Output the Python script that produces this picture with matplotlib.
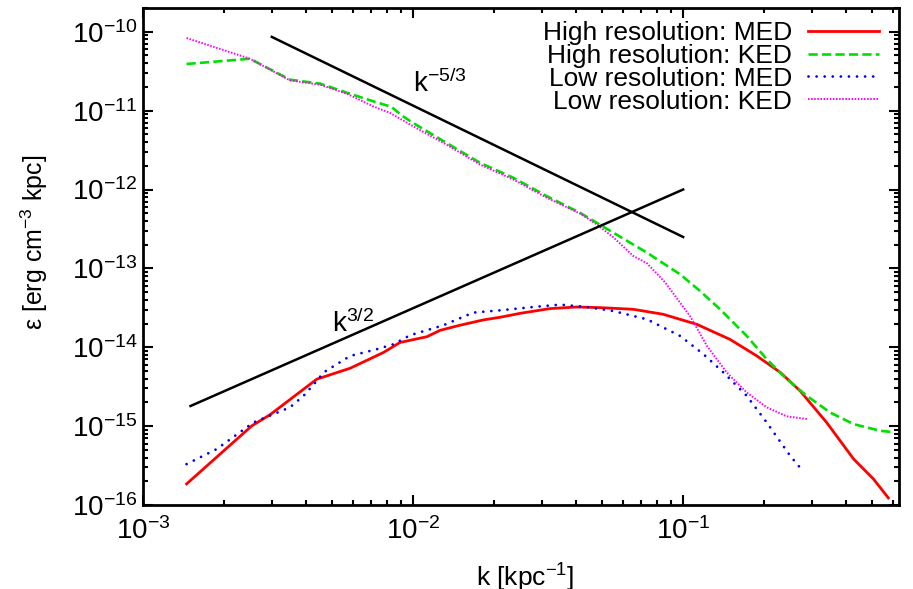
import numpy as np
import matplotlib
matplotlib.use("Agg")
import matplotlib.pyplot as plt
from matplotlib.ticker import LogLocator, NullFormatter

plt.rcParams['font.family'] = ['Liberation Sans', 'DejaVu Sans']
plt.rcParams['mathtext.fontset'] = 'custom'
plt.rcParams['mathtext.rm'] = 'Liberation Sans'
plt.rcParams['mathtext.it'] = 'Liberation Sans'

# --- Data ---
# High resolution: magnetic energy density (MED)
k_hi_med = [1.45e-3, 2.53e-3, 2.95e-3, 4.40e-3, 5.85e-3, 7.76e-3, 8.95e-3,
            1.125e-2, 1.26e-2, 1.49e-2, 1.82e-2, 2.10e-2, 2.49e-2, 3.21e-2,
            4.04e-2, 4.93e-2, 6.53e-2, 8.43e-2, 0.1125, 0.149, 0.1875,
            0.229, 0.271, 0.340, 0.428, 0.507, 0.575]
e_hi_med = [1.85e-16, 1.01e-15, 1.39e-15, 3.94e-15, 5.42e-15, 8.57e-15, 1.15e-14,
            1.36e-14, 1.64e-14, 1.90e-14, 2.22e-14, 2.40e-14, 2.69e-14, 3.09e-14,
            3.24e-14, 3.18e-14, 3.03e-14, 2.62e-14, 1.95e-14, 1.26e-14, 7.76e-15,
            4.79e-15, 2.80e-15, 1.11e-15, 3.82e-16, 2.13e-16, 1.23e-16]

# High resolution: kinetic energy density (KED)
k_hi_ked = [1.45e-3, 2.49e-3, 3.50e-3, 4.53e-3, 5.74e-3, 7.13e-3, 8.30e-3,
            9.18e-3, 1.00e-2, 1.33e-2, 1.77e-2, 2.35e-2, 3.13e-2, 4.15e-2,
            5.52e-2, 7.35e-2, 9.75e-2, 0.1156, 0.137, 0.172, 0.204, 0.242,
            0.287, 0.350, 0.428, 0.537, 0.585]
e_hi_ked = [3.90e-11, 4.55e-11, 2.47e-11, 2.20e-11, 1.67e-11, 1.31e-11, 1.12e-11,
            8.47e-12, 6.98e-12, 3.90e-12, 2.18e-12, 1.41e-12, 8.22e-13, 5.07e-13,
            2.83e-13, 1.58e-13, 8.39e-14, 5.16e-14, 3.03e-14, 1.39e-14, 7.05e-15,
            3.94e-15, 2.42e-15, 1.49e-15, 1.06e-15, 8.72e-16, 8.47e-16]

# Low resolution: MED
k_lo_med = [1.45e-3, 1.875e-3, 2.56e-3, 3.50e-3, 3.93e-3, 4.40e-3, 4.66e-3,
            5.85e-3, 7.34e-3, 8.45e-3, 9.75e-3, 1.294e-2, 1.67e-2, 2.10e-2,
            2.79e-2, 3.50e-2, 4.28e-2, 5.52e-2, 7.35e-2, 9.75e-2, 0.119,
            0.141, 0.172, 0.204, 0.249, 0.279]
e_lo_med = [3.30e-16, 5.12e-16, 1.11e-15, 1.73e-15, 2.42e-15, 3.74e-15, 4.79e-15,
            7.76e-15, 9.44e-15, 1.09e-14, 1.42e-14, 1.90e-14, 2.75e-14, 2.94e-14,
            3.24e-14, 3.47e-14, 3.27e-14, 2.88e-14, 2.26e-14, 1.39e-14, 8.15e-15,
            4.79e-15, 2.42e-15, 1.11e-15, 4.21e-16, 2.64e-16]

# Low resolution: KED
k_lo_ked = [1.45e-3, 2.49e-3, 3.50e-3, 4.53e-3, 5.68e-3, 7.13e-3, 8.22e-3,
            1.00e-2, 1.33e-2, 1.77e-2, 2.35e-2, 3.13e-2, 4.15e-2, 4.79e-2,
            5.52e-2, 6.55e-2, 7.35e-2, 8.57e-2, 0.106, 0.1225, 0.145, 0.172,
            0.204, 0.242, 0.287]
e_lo_ked = [8.32e-11, 4.55e-11, 2.42e-11, 2.13e-11, 1.64e-11, 1.13e-11, 9.35e-12,
            6.33e-12, 3.71e-12, 2.07e-12, 1.34e-12, 7.85e-13, 4.97e-13, 3.61e-13,
            2.47e-13, 1.43e-13, 1.16e-13, 6.65e-14, 2.49e-14, 1.04e-14, 4.79e-15,
            2.67e-15, 1.73e-15, 1.33e-15, 1.23e-15]

# Power-law guide lines (end points)
k_m53 = [3e-3, 0.1]
e_m53 = [8.6e-11, 2.5e-13]
k_p32 = [1.5e-3, 0.1]
e_p32 = [1.8e-15, 1.0e-12]

# --- Plot ---
fig = plt.figure(figsize=(9.13, 5.89), dpi=100)
ax = fig.add_axes([0.1566, 0.1426, 0.8281, 0.8438])

ax.plot(k_hi_med, e_hi_med, color='#ff0000', lw=2.0, label='High resolution: MED')
ax.plot(k_hi_ked, e_hi_ked, color='#00e000', lw=1.9, dashes=(3.5, 1.6),
        label='High resolution: KED')
ax.plot(k_lo_med, e_lo_med, color='#0000ff', lw=2.0, dashes=(0.01, 2.9),
        dash_capstyle='round', label='Low resolution: MED')
ax.plot(k_lo_ked, e_lo_ked, color='#ff00ff', lw=1.4, dashes=(0.8, 0.8),
        label='Low resolution: KED')

ax.plot(k_m53, e_m53, color='black', lw=1.8)
ax.plot(k_p32, e_p32, color='black', lw=1.8)
ax.text(1.0e-2, 1.74e-11, r'k$^{-5/3}$', fontsize=20, ha='left', va='baseline')
ax.text(5.0e-3, 1.55e-14, r'k$^{3/2}$', fontsize=20, ha='left', va='baseline')

ax.set_xscale('log')
ax.set_yscale('log')
ax.set_xlim(1e-3, 0.63)
ax.set_ylim(1e-16, 2e-10)

ax.xaxis.set_major_locator(LogLocator(base=10, numticks=10))
ax.xaxis.set_minor_locator(LogLocator(base=10, subs=np.arange(2, 10), numticks=10))
ax.yaxis.set_major_locator(LogLocator(base=10, numticks=10))
ax.yaxis.set_minor_locator(LogLocator(base=10, subs=np.arange(2, 10), numticks=10))
ax.xaxis.set_minor_formatter(NullFormatter())
ax.yaxis.set_minor_formatter(NullFormatter())

ax.tick_params(which='both', direction='in', top=True, right=True, width=1.5)
ax.tick_params(which='major', length=7, labelsize=20)
ax.tick_params(axis='x', which='major', pad=9)
ax.tick_params(axis='y', which='major', pad=4)
ax.tick_params(which='minor', length=3.5)
for s in ax.spines.values():
    s.set_linewidth(2.0)

ax.set_xlabel(r'k [kpc$^{-1}$]', fontsize=19)
ax.set_ylabel(r'$\epsilon$ [erg cm$^{-3}$ kpc]', fontsize=18)
ax.xaxis.set_label_coords(0.575, 0.046, transform=fig.transFigure)
ax.yaxis.set_label_coords(0.055, 0.589, transform=fig.transFigure)

leg = ax.legend(loc='upper right', bbox_to_anchor=(1.0, 1.014), fontsize=19,
                frameon=False, markerfirst=False,
                handlelength=2.7, handletextpad=0.6, labelspacing=-0.04,
                borderaxespad=0.75, borderpad=0.0)
for t in leg.get_texts():
    t.set_ha('right')

fig.savefig('out.png', dpi=100)
